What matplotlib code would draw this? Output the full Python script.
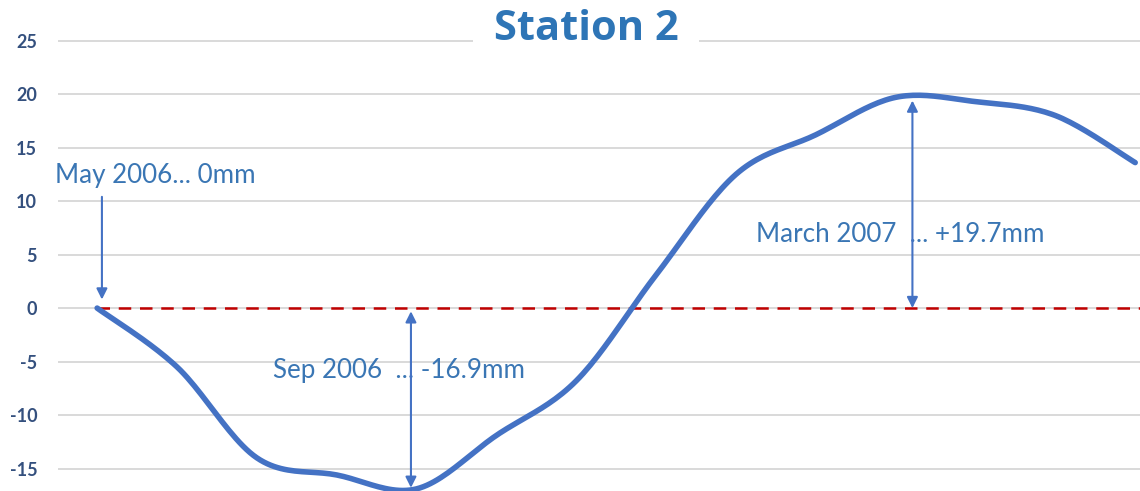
import numpy as np
import matplotlib.pyplot as plt

# Monthly readings, May 2006 .. Jun 2007 (mm)
months = ["May 2006", "Jun 2006", "Jul 2006", "Aug 2006", "Sep 2006", "Oct 2006",
          "Nov 2006", "Dec 2006", "Jan 2007", "Feb 2007", "Mar 2007", "Apr 2007",
          "May 2007", "Jun 2007"]
values = [0, -5.5, -14.0, -15.6, -16.9, -11.9, -6.8, 3.1, 12.5, 16.2, 19.7, 19.3, 18.0, 13.6]
yticks = [-15, -10, -5, 0, 5, 10, 15, 20, 25]

notes = ["May 2006... 0mm", "Sep 2006  ... -16.9mm", "March 2007  ... +19.7mm"]

LINE = "#4472C4"
TEXT = "#3A76B4"


def smooth(x, y, n=24):
    # Excel-style smoothed line: cubic Bezier with Catmull-Rom control points
    p = np.column_stack([x, y]).astype(float)
    out = []
    for i in range(len(p) - 1):
        p0 = p[i - 1] if i > 0 else p[i]
        p1, p2 = p[i], p[i + 1]
        p3 = p[i + 2] if i + 2 < len(p) else p[i + 1]
        c1 = p1 + (p2 - p0) / 6
        c2 = p2 - (p3 - p1) / 6
        t = np.linspace(0, 1, n)[:, None]
        seg = ((1 - t) ** 3) * p1 + 3 * ((1 - t) ** 2) * t * c1 + 3 * (1 - t) * t ** 2 * c2 + t ** 3 * p2
        out.append(seg if i == 0 else seg[1:])
    s = np.vstack(out)
    return s[:, 0], s[:, 1]


x = np.arange(len(values))
xs, ys = smooth(x, values)

fig = plt.figure(figsize=(11.4, 4.91), dpi=100)
ax = fig.add_axes([58 / 1140, 0, 1082 / 1140, 1])

ax.plot(xs, ys, color=LINE, lw=4, solid_capstyle="round", zorder=3, clip_on=False)
ax.axhline(0, xmin=(0 + 0.49) / 13.55, color="#C00000", lw=1.8, ls=(0, (5, 3.5)), zorder=2)

ax.set_xlim(-0.49, 13.06)
ax.set_ylim(-17.1, 28.8)
ax.set_yticks(yticks)
ax.set_yticklabels([str(v) for v in yticks], fontfamily="Lato", fontweight="bold",
                   fontsize=13, color="#34507E")
ax.tick_params(axis="y", length=0, pad=15)
ax.set_xticks([])
ax.grid(axis="y", color="#D9D9D9", lw=1.4)
ax.set_axisbelow(True)
for s in ax.spines.values():
    s.set_visible(False)

# annotations
i_start = 0
i_min = int(np.argmin(values))
i_max = int(np.argmax(values))
fs = 18.7
ax.text(-0.53, 12.4, notes[0], fontsize=fs, fontfamily="Lato", color=TEXT, va="center")
ax.annotate("", xy=(x[i_start] + 0.06, 0.8), xytext=(x[i_start] + 0.06, 10.4),
            arrowprops=dict(arrowstyle="-|>", color=LINE, lw=1.5, mutation_scale=16,
                            shrinkA=0, shrinkB=0))

ax.text(2.2, -5.8, notes[1], fontsize=fs, fontfamily="Lato", color=TEXT, va="center")
ax.annotate("", xy=(x[i_min] - 0.07, values[i_min] + 0.1), xytext=(x[i_min] - 0.07, -0.3),
            arrowprops=dict(arrowstyle="<|-|>", color=LINE, lw=1.5, mutation_scale=16,
                            shrinkA=0, shrinkB=0))

ax.text(8.25, 6.9, notes[2], fontsize=fs, fontfamily="Lato", color=TEXT, va="center")
ax.annotate("", xy=(x[i_max] + 0.21, values[i_max] - 0.3), xytext=(x[i_max] + 0.21, 0),
            arrowprops=dict(arrowstyle="<|-|>", color=LINE, lw=1.5, mutation_scale=16,
                            shrinkA=0, shrinkB=0))

# title sits on a white box over the top gridline
fig.text(586 / 1140, 1 - 30 / 491, "Station 2", fontsize=30, fontfamily="Open Sans",
         fontweight="bold", color="#2E75B6", ha="center", va="center",
         bbox=dict(boxstyle="square,pad=0.5", fc="white", ec="none"))

fig.savefig("out.png", dpi=100)
